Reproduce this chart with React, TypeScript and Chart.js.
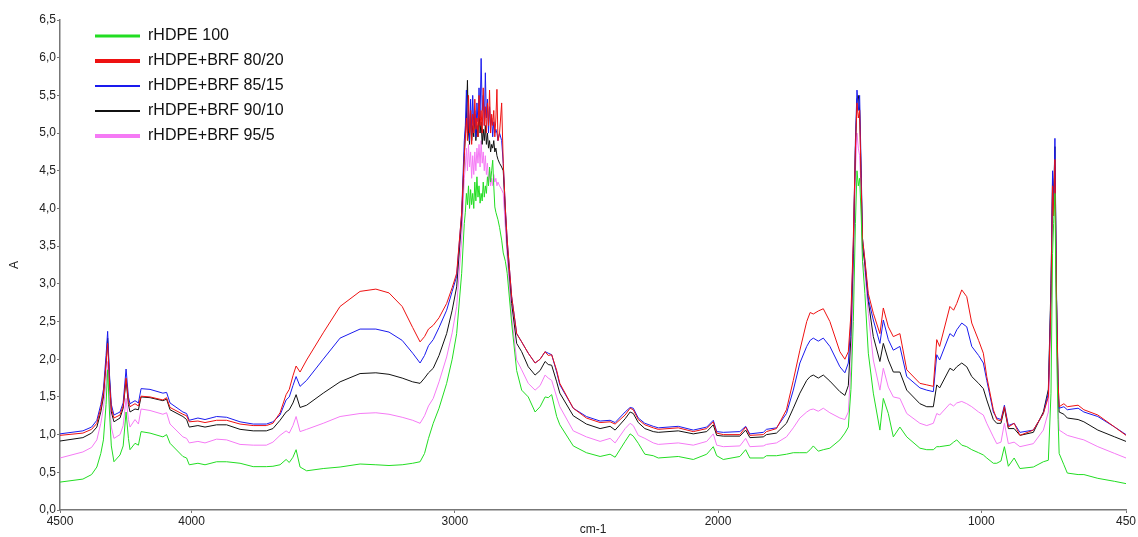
import { useEffect, useRef } from "react";
import { Chart, registerables } from "chart.js";

Chart.register(...registerables);

// wavenumber (cm-1)
const wavenumbers = [
  4500, 4413, 4380, 4360, 4345, 4335, 4325, 4319, 4312, 4305,
  4295, 4272, 4260, 4249, 4240, 4234, 4215, 4202, 4192, 4158,
  4109, 4095, 4082, 4033, 4019, 4009, 3976, 3949, 3905, 3867,
  3816, 3766, 3716, 3691, 3664, 3641, 3629, 3615, 3603, 3588,
  3563, 3500, 3436, 3360, 3300, 3250, 3200, 3160, 3132, 3115,
  3100, 3082, 3060, 3031, 3010, 2993, 2974, 2964,
  2960, 2956, 2952, 2948, 2944, 2940, 2936, 2932, 2928, 2924,
  2920, 2916, 2912, 2908, 2904, 2900, 2896, 2892, 2888, 2884,
  2880, 2876, 2872, 2868, 2864, 2860, 2856, 2852, 2848, 2844,
  2840, 2836,
  2830, 2822, 2816, 2808, 2801, 2784, 2765, 2746, 2721, 2695,
  2676, 2657, 2645, 2632, 2613, 2601, 2550, 2500, 2448, 2410,
  2391, 2353, 2334, 2322, 2303, 2278, 2246, 2227, 2151, 2094,
  2043, 2018, 2005, 1980, 1917, 1895, 1879, 1828, 1816, 1778,
  1740, 1714, 1689, 1663, 1650, 1638, 1619, 1600, 1575, 1537,
  1518, 1505, 1495, 1486, 1478, 1472, 1467, 1462, 1456, 1451,
  1442, 1429, 1410, 1385, 1372, 1353, 1334, 1309, 1283, 1233,
  1207, 1182, 1169, 1158, 1119, 1105, 1093, 1074, 1055, 1036,
  1010, 992, 979, 954, 941, 925, 912, 897, 875, 853,
  802, 764, 745, 735, 729, 725, 720, 714, 708, 704,
  686, 673, 632, 610, 557, 493, 450,
];

const rHDPE100 = [
  0.37, 0.41, 0.47, 0.57, 0.75, 0.93, 1.40, 1.86, 1.30, 0.85,
  0.64, 0.73, 0.85, 1.30, 0.95, 0.80, 0.885, 0.86, 1.04, 1.02,
  0.97, 1.00, 0.885, 0.71, 0.69, 0.60, 0.62, 0.60, 0.64, 0.64,
  0.62, 0.575, 0.575, 0.58, 0.60, 0.67, 0.63, 0.70, 0.80, 0.57,
  0.52, 0.55, 0.57, 0.61, 0.60, 0.59, 0.60, 0.62, 0.64, 0.75,
  0.95, 1.15, 1.35, 1.68, 2.00, 2.34, 3.14, 3.80,
  3.95, 4.2, 4.05, 4.3, 4.0, 4.25, 4.05, 4.2, 4.0, 4.35,
  4.1, 4.42, 4.15, 4.3, 4.07, 4.2, 4.1, 4.35, 4.15, 4.3,
  4.2, 4.42, 4.3, 4.55, 4.35, 4.5, 4.64, 4.3, 4.02, 3.95,
  3.9, 3.85,
  3.75, 3.58, 3.41, 3.30, 3.14, 2.48, 1.85, 1.59, 1.50, 1.30,
  1.37, 1.50, 1.49, 1.53, 1.24, 1.13, 0.85, 0.76, 0.71, 0.74,
  0.70, 0.91, 1.01, 0.98, 0.885, 0.74, 0.72, 0.69, 0.71, 0.67,
  0.74, 0.84, 0.72, 0.67, 0.71, 0.80, 0.69, 0.69, 0.72, 0.72,
  0.74, 0.76, 0.76, 0.76, 0.80, 0.85, 0.78, 0.80, 0.82, 0.93,
  1.02, 1.10, 1.60, 2.50, 3.80, 4.50, 4.30, 4.40, 3.90, 3.30,
  2.87, 2.08, 1.55, 1.06, 1.48, 1.28, 0.97, 1.10, 0.97, 0.82,
  0.80, 0.80, 0.84, 0.84, 0.86, 0.90, 0.93, 0.86, 0.84, 0.80,
  0.76, 0.73, 0.69, 0.62, 0.62, 0.65, 0.84, 0.58, 0.69, 0.55,
  0.57, 0.64, 0.66, 1.55, 3.40, 3.80, 4.20, 2.20, 1.20, 0.75,
  0.60, 0.49, 0.47, 0.47, 0.42, 0.38, 0.35,
];

const brf8020 = [
  0.99, 1.02, 1.07, 1.15, 1.35, 1.55, 1.95, 2.21, 1.70, 1.35,
  1.22, 1.26, 1.38, 1.75, 1.45, 1.37, 1.41, 1.38, 1.51, 1.50,
  1.46, 1.49, 1.36, 1.27, 1.25, 1.17, 1.18, 1.16, 1.19, 1.19,
  1.14, 1.12, 1.12, 1.15, 1.29, 1.53, 1.60, 1.78, 1.91, 1.83,
  1.99, 2.35, 2.70, 2.90, 2.93, 2.88, 2.70, 2.42, 2.23, 2.30,
  2.40, 2.45, 2.55, 2.74, 2.95, 3.14, 3.94, 4.70,
  4.95, 5.2, 4.9, 5.5, 5.0, 5.3, 4.85, 5.25, 5.0, 5.45,
  5.05, 5.2, 4.95, 5.5, 5.1, 5.3, 5.0, 5.6, 5.1, 5.35,
  5.0, 5.4, 5.1, 5.57, 5.0, 5.25, 5.1, 5.3, 4.95, 5.2,
  5.58, 4.9,
  5.00, 5.40, 4.60, 4.00, 3.58, 2.83, 2.34, 2.23, 2.08, 1.95,
  2.00, 2.10, 2.05, 2.06, 1.85, 1.68, 1.35, 1.22, 1.16, 1.17,
  1.14, 1.26, 1.35, 1.33, 1.20, 1.13, 1.09, 1.07, 1.09, 1.04,
  1.08, 1.17, 1.02, 1.00, 1.00, 1.10, 0.99, 1.00, 1.04, 1.08,
  1.33, 1.72, 2.12, 2.50, 2.62, 2.60, 2.64, 2.67, 2.50, 2.10,
  2.00, 2.10, 2.60, 3.60, 4.80, 5.40, 5.20, 5.30, 4.30, 3.60,
  3.32, 2.87, 2.61, 2.34, 2.68, 2.43, 2.30, 2.34, 1.86, 1.68,
  1.66, 1.64, 2.26, 2.17, 2.70, 2.65, 2.74, 2.92, 2.83, 2.48,
  2.25, 2.08, 1.77, 1.33, 1.20, 1.18, 1.37, 1.10, 1.15, 0.99,
  1.06, 1.28, 1.50, 2.80, 4.30, 3.90, 4.65, 2.80, 1.70, 1.37,
  1.41, 1.37, 1.39, 1.33, 1.26, 1.10, 0.99,
];

const brf8515 = [
  1.01, 1.05, 1.10, 1.19, 1.40, 1.60, 2.05, 2.37, 1.80, 1.40,
  1.26, 1.30, 1.42, 1.87, 1.50, 1.41, 1.45, 1.42, 1.61, 1.60,
  1.55, 1.56, 1.42, 1.30, 1.28, 1.19, 1.22, 1.20, 1.24, 1.23,
  1.17, 1.14, 1.14, 1.17, 1.26, 1.46, 1.50, 1.65, 1.77, 1.64,
  1.72, 2.00, 2.28, 2.40, 2.40, 2.36, 2.25, 2.08, 1.95, 2.05,
  2.18, 2.26, 2.42, 2.65, 2.90, 3.10, 3.94, 4.90,
  5.1, 5.57, 5.0, 5.3, 4.9, 5.45, 5.0, 5.5, 5.1, 5.3,
  4.95, 5.4, 5.15, 5.6, 5.2, 5.99, 5.3, 5.5, 5.1, 5.8,
  5.2, 5.45, 5.0, 5.35, 5.1, 5.2, 4.95, 5.15, 5.0, 5.05,
  5.0, 4.9,
  5.00, 4.90, 4.60, 4.00, 3.58, 2.83, 2.34, 2.23, 2.08, 1.95,
  2.00, 2.10, 2.08, 2.06, 1.83, 1.66, 1.35, 1.24, 1.18, 1.19,
  1.16, 1.30, 1.36, 1.35, 1.22, 1.15, 1.11, 1.09, 1.11, 1.06,
  1.10, 1.19, 1.04, 1.03, 1.04, 1.11, 1.01, 1.03, 1.07, 1.09,
  1.28, 1.59, 1.95, 2.17, 2.25, 2.28, 2.24, 2.28, 2.17, 1.90,
  1.82, 1.95, 2.50, 3.50, 4.90, 5.57, 5.30, 5.50, 4.50, 3.60,
  3.30, 2.80, 2.52, 2.21, 2.52, 2.26, 2.12, 2.17, 1.77, 1.62,
  1.59, 1.57, 2.06, 1.99, 2.34, 2.30, 2.39, 2.48, 2.43, 2.17,
  2.05, 1.95, 1.72, 1.30, 1.22, 1.20, 1.39, 1.12, 1.15, 1.03,
  1.06, 1.28, 1.55, 2.90, 4.50, 4.00, 4.93, 2.90, 1.70, 1.35,
  1.37, 1.33, 1.35, 1.30, 1.24, 1.10, 1.00,
];

const brf9010 = [
  0.915, 0.96, 1.02, 1.10, 1.30, 1.50, 1.95, 2.28, 1.75, 1.30,
  1.17, 1.22, 1.35, 1.73, 1.40, 1.30, 1.34, 1.33, 1.50, 1.49,
  1.45, 1.47, 1.33, 1.24, 1.20, 1.10, 1.12, 1.10, 1.13, 1.13,
  1.07, 1.05, 1.05, 1.08, 1.19, 1.30, 1.33, 1.42, 1.53, 1.36,
  1.39, 1.55, 1.70, 1.81, 1.82, 1.80, 1.75, 1.70, 1.68, 1.75,
  1.82, 1.88, 2.05, 2.34, 2.65, 2.96, 3.85, 4.70,
  5.0, 5.2, 5.7, 5.0, 4.85, 5.3, 4.9, 5.1, 4.95, 5.25,
  4.9, 5.1, 4.95, 5.3, 5.0, 5.15, 4.85, 5.05, 4.9, 5.1,
  4.85, 5.0, 4.8, 4.9, 4.75, 4.85, 4.8, 4.9, 4.75, 4.8,
  4.7, 4.65,
  4.60, 4.55, 4.50, 3.95, 3.49, 2.74, 2.21, 2.10, 1.90, 1.79,
  1.85, 1.97, 1.93, 1.92, 1.70, 1.55, 1.25, 1.14, 1.08, 1.11,
  1.06, 1.21, 1.30, 1.28, 1.16, 1.08, 1.04, 1.03, 1.05, 1.01,
  1.04, 1.13, 0.99, 0.98, 0.98, 1.06, 0.96, 0.97, 1.00, 1.02,
  1.15, 1.35, 1.55, 1.72, 1.77, 1.79, 1.75, 1.79, 1.71, 1.57,
  1.52, 1.65, 2.30, 3.40, 4.80, 5.45, 5.50, 5.30, 4.40, 3.50,
  3.25, 2.77, 2.30, 1.97, 2.21, 1.99, 1.83, 1.83, 1.59, 1.41,
  1.37, 1.37, 1.66, 1.62, 1.88, 1.85, 1.90, 1.95, 1.90, 1.77,
  1.68, 1.61, 1.46, 1.20, 1.15, 1.15, 1.35, 1.08, 1.08, 0.99,
  1.03, 1.30, 1.60, 3.00, 4.40, 4.10, 4.82, 2.80, 1.60, 1.30,
  1.27, 1.22, 1.20, 1.17, 1.06, 0.97, 0.91,
];

const brf955 = [
  0.69, 0.77, 0.83, 0.93, 1.15, 1.35, 1.70, 1.97, 1.50, 1.10,
  0.95, 1.00, 1.12, 1.48, 1.20, 1.10, 1.20, 1.14, 1.34, 1.32,
  1.27, 1.29, 1.14, 0.97, 0.95, 0.89, 0.91, 0.89, 0.94, 0.93,
  0.87, 0.86, 0.86, 0.90, 0.99, 1.05, 1.02, 1.12, 1.24, 1.04,
  1.07, 1.15, 1.24, 1.28, 1.29, 1.27, 1.23, 1.19, 1.15, 1.25,
  1.38, 1.48, 1.70, 2.03, 2.35, 2.70, 3.58, 4.40,
  4.55, 4.8, 4.5, 4.85, 4.55, 4.75, 4.4, 4.7, 4.45, 4.75,
  4.5, 4.8, 4.6, 4.85, 4.55, 4.9, 4.6, 4.75, 4.5, 4.7,
  4.45, 4.6, 4.35, 4.5, 4.3, 4.4, 4.3, 4.45, 4.35, 4.4,
  4.3, 4.35,
  4.30, 4.25, 4.20, 3.75, 3.36, 2.56, 1.99, 1.86, 1.68, 1.59,
  1.65, 1.79, 1.75, 1.72, 1.50, 1.37, 1.05, 0.97, 0.91, 0.95,
  0.89, 1.08, 1.15, 1.12, 0.99, 0.95, 0.89, 0.87, 0.89, 0.86,
  0.91, 1.01, 0.86, 0.84, 0.85, 0.95, 0.84, 0.85, 0.87, 0.89,
  0.97, 1.09, 1.22, 1.30, 1.33, 1.34, 1.31, 1.35, 1.29, 1.22,
  1.20, 1.30, 1.90, 3.00, 4.50, 5.00, 4.80, 4.70, 4.20, 3.30,
  3.15, 2.61, 1.99, 1.59, 1.88, 1.63, 1.50, 1.48, 1.28, 1.15,
  1.12, 1.15, 1.28, 1.26, 1.41, 1.38, 1.42, 1.44, 1.41, 1.37,
  1.30, 1.26, 1.15, 0.97, 0.88, 0.90, 1.15, 0.88, 0.90, 0.84,
  0.88, 1.06, 1.30, 2.60, 4.20, 3.90, 4.55, 2.50, 1.40, 1.06,
  1.02, 0.99, 0.95, 0.93, 0.84, 0.75, 0.69,
];

const seriesLabels = [
  "rHDPE 100",
  "rHDPE+BRF 80/20",
  "rHDPE+BRF 85/15",
  "rHDPE+BRF 90/10",
  "rHDPE+BRF 95/5",
];
const seriesValues = [rHDPE100, brf8020, brf8515, brf9010, brf955];
const seriesColors = ["#22dd22", "#ee1111", "#1a1aee", "#111111", "#f57af5"];
const legendLineWidths = [3, 4, 2, 2, 4];

const xTickValues = [4500, 4000, 3000, 2000, 1000, 450];
const xAxisTitle = "cm-1";
const yAxisTitle = "A";

const FONT = 'Arial, "Liberation Sans", sans-serif';

const legendPlugin = {
  id: "spectrumLegend",
  afterDraw(chart: any) {
    const ctx = chart.ctx;
    ctx.save();
    ctx.font = `16px ${FONT}`;
    ctx.textBaseline = "middle";
    ctx.textAlign = "left";
    seriesLabels.forEach((label, i) => {
      const y = 36 + i * 25;
      ctx.strokeStyle = seriesColors[i];
      ctx.lineWidth = legendLineWidths[i];
      ctx.beginPath();
      ctx.moveTo(95, y);
      ctx.lineTo(140, y);
      ctx.stroke();
      ctx.fillStyle = "#111";
      ctx.fillText(label, 148, y);
    });
    ctx.restore();
  },
};

export default function App() {
  const canvasRef = useRef<HTMLCanvasElement | null>(null);

  useEffect(() => {
    document.body.style.margin = "0";
    const canvas = canvasRef.current;
    if (!canvas) return;
    Chart.defaults.font.family = FONT;
    const datasets = seriesLabels.map((label, i) => ({
      label,
      data: wavenumbers.map((x, j) => ({ x, y: seriesValues[i][j] })),
      borderColor: seriesColors[i],
      backgroundColor: seriesColors[i],
      borderWidth: 1,
      pointRadius: 0,
      tension: 0,
      fill: false,
    }));
    const chart = new Chart(canvas, {
      type: "line",
      data: { datasets },
      plugins: [legendPlugin],
      options: {
        animation: false,
        responsive: false,
        parsing: true,
        layout: { padding: { top: 20, right: 12, left: 0, bottom: 0 } },
        plugins: {
          legend: { display: false },
          tooltip: { enabled: false },
        },
        scales: {
          x: {
            type: "linear",
            reverse: true,
            min: 450,
            max: 4500,
            afterBuildTicks: (scale: any) => {
              scale.ticks = xTickValues.map((v) => ({ value: v }));
            },
            afterFit: (scale: any) => {
              scale.height = 27;
            },
            grid: {
              display: true,
              drawOnChartArea: false,
              drawTicks: true,
              tickLength: 3,
              color: "#777",
            },
            border: { display: true, color: "#777", width: 1.5 },
            ticks: {
              autoSkip: false,
              maxRotation: 0,
              padding: 1,
              color: "#222",
              font: { size: 12, family: FONT },
              callback: (v: any) => String(v),
            },
            title: {
              display: true,
              text: xAxisTitle,
              color: "#222",
              font: { size: 12, family: FONT },
              padding: { top: 0, bottom: 0 },
            },
          },
          y: {
            type: "linear",
            min: 0,
            max: 6.5,
            afterFit: (scale: any) => {
              scale.width = 60;
            },
            grid: {
              display: true,
              drawOnChartArea: false,
              drawTicks: true,
              tickLength: 3,
              color: "#777",
            },
            border: { display: true, color: "#777", width: 1.5 },
            ticks: {
              stepSize: 0.5,
              padding: 1,
              color: "#222",
              font: { size: 12, family: FONT },
              callback: (v: any) => Number(v).toFixed(1).replace(".", ","),
            },
            title: {
              display: true,
              text: yAxisTitle,
              color: "#222",
              font: { size: 12, family: FONT },
              padding: { top: 7, bottom: 0 },
            },
          },
        },
      },
    } as any);
    return () => chart.destroy();
  }, []);

  return (
    <div style={{ position: "absolute", left: 0, top: 0, width: 1138, height: 537, background: "#fff" }}>
      <canvas ref={canvasRef} width={1138} height={537} style={{ display: "block" }} />
    </div>
  );
}
